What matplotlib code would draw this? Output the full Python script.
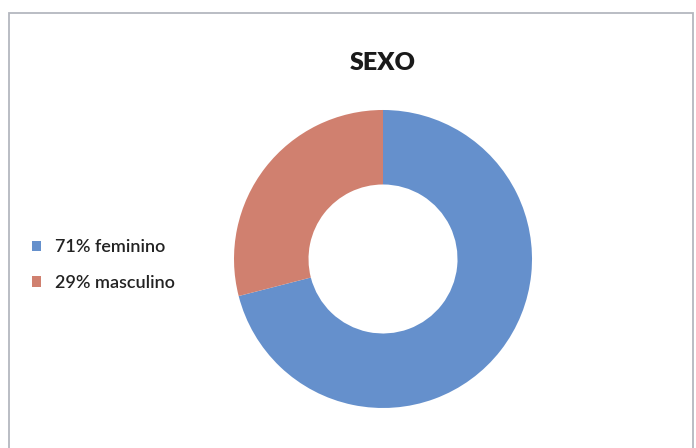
import matplotlib.pyplot as plt
from matplotlib.patches import Rectangle

# data
labels = ["71% feminino", "29% masculino"]
values = [71, 29]
colors = ["#6590cc", "#d0806f"]

plt.rcParams['font.family'] = ['Lato', 'DejaVu Sans']

fig = plt.figure(figsize=(6.96, 4.48), dpi=100)
fig.patch.set_facecolor("white")

# chart border (bottom runs off the picture)
fig.patches.append(Rectangle((9 / 696, -5 / 448), 684 / 696, 440 / 448,
                             transform=fig.transFigure, fill=False,
                             edgecolor="#b4b7bf", linewidth=1.3))

ax = fig.add_axes([0.3362, 0.0893, 0.4282, 0.6652])
wedges, _ = ax.pie(values, colors=colors, startangle=90, counterclock=False,
                   radius=1, wedgeprops=dict(width=0.5, linewidth=0))
ax.set_xlim(-1, 1)
ax.set_ylim(-1, 1)
ax.set_aspect("equal")
ax.axis("off")

fig.text(383 / 696, 1 - 63 / 448, "SEXO", ha="center", va="center",
         fontsize=18, fontweight="heavy", color="#1a1a1a")

leg = fig.legend(wedges, labels, loc="center left", bbox_to_anchor=(16 / 696, 1 - 265 / 448),
                 frameon=False, fontsize=13, handlelength=0.5, handleheight=0.5,
                 handletextpad=0.78, labelspacing=1.1)
for t in leg.get_texts():
    t.set_color("#222222")
    t.set_fontweight("semibold")

fig.savefig("out.png", dpi=100, facecolor="white")
